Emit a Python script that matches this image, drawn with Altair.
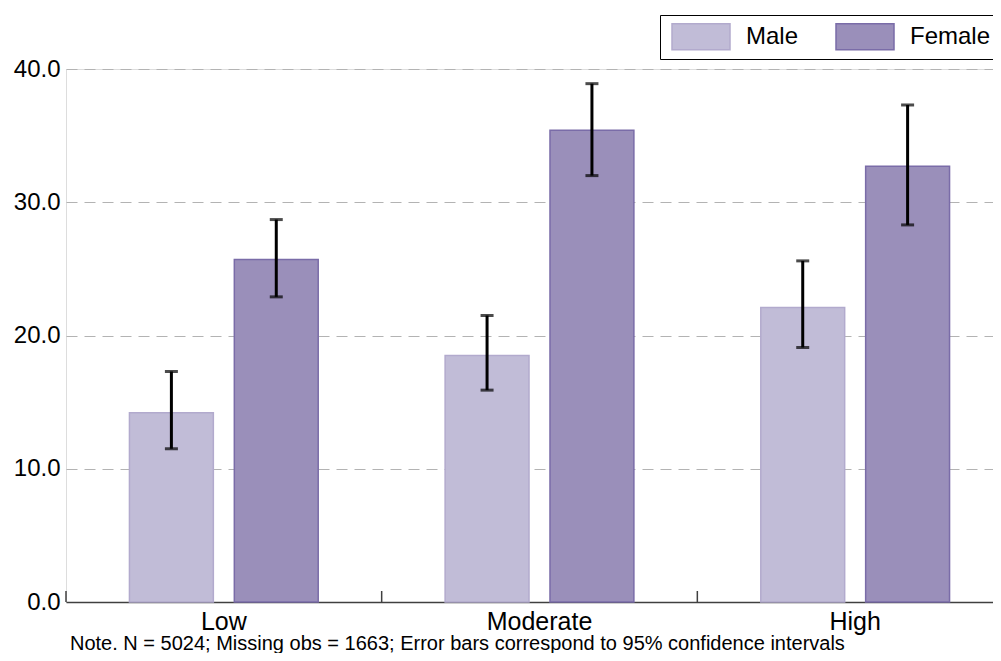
import altair as alt
import pandas as pd

categories = ["Low", "Moderate", "High"]
sexes = ["Male", "Female"]
male_mean = [14.2, 18.5, 22.1]
male_lo = [11.5, 15.9, 19.1]
male_hi = [17.3, 21.5, 25.6]
female_mean = [25.7, 35.4, 32.7]
female_lo = [22.9, 32.0, 28.3]
female_hi = [28.7, 38.9, 37.3]
y_ticks = [0, 10, 20, 30, 40]
note = "Note. N = 5024; Missing obs = 1663; Error bars correspond to 95% confidence intervals"

rows = []
for i, c in enumerate(categories):
    rows.append({"cat": c, "sex": "Male", "mean": male_mean[i], "lo": male_lo[i], "hi": male_hi[i]})
    rows.append({"cat": c, "sex": "Female", "mean": female_mean[i], "lo": female_lo[i], "hi": female_hi[i]})
df = pd.DataFrame(rows)
cat_df = pd.DataFrame({"cat": categories})

FONT = "Liberation Sans"
W, H = 927, 533

xscale = alt.Scale(domain=categories, paddingInner=0, paddingOuter=0, range=[0, 947])
xoff = alt.XOffset("sex:N", sort=sexes, scale=alt.Scale(domain=sexes, paddingInner=0.2, paddingOuter=0.605))
yscale = alt.Scale(domain=[0, 40], nice=False)

legend = alt.Legend(title=None, orient="none", legendX=594, legendY=-54,
                    direction="horizontal", columns=2,
                    symbolType="M-2,-0.9H2V0.9H-2Z", symbolSize=841,
                    symbolOffset=19.5, symbolStrokeWidth=1.5,
                    labelFontSize=24, labelFont=FONT,
                    labelColor="black", labelOffset=29.5, columnPadding=31,
                    padding=6, strokeColor="black", fillColor="white")

base = alt.Chart(df)

bars = base.mark_bar(strokeWidth=1.5).encode(
    x=alt.X("cat:N", sort=categories, scale=xscale, title=None,
            axis=alt.Axis(ticks=False, labelFontSize=25, labelColor="black", labelPadding=7,
                          domainColor="#404040", domainWidth=1.5, labelAngle=0, labelFont=FONT)),
    xOffset=xoff,
    y=alt.Y("mean:Q", scale=yscale, title=None,
            axis=alt.Axis(values=y_ticks, format=".1f", domain=False, ticks=False,
                          grid=True, gridDash=[11, 7], gridColor="#b3b3b3", gridWidth=1,
                          labelFontSize=24, labelColor="black", labelPadding=6, labelFont=FONT)),
    fill=alt.Fill("sex:N", sort=sexes, scale=alt.Scale(domain=sexes, range=["#c1bcd7", "#9a8fba"]),
                  legend=legend),
    stroke=alt.Stroke("sex:N", sort=sexes, scale=alt.Scale(domain=sexes, range=["#b2aacd", "#7a6ca8"]),
                      legend=legend),
)

err = base.mark_rule(color="black", strokeWidth=3).encode(
    x=alt.X("cat:N", sort=categories, scale=xscale),
    xOffset=xoff,
    y=alt.Y("lo:Q", scale=yscale),
    y2="hi:Q",
)
cap_lo = base.mark_tick(color="black", thickness=3, size=13).encode(
    x=alt.X("cat:N", sort=categories, scale=xscale),
    xOffset=xoff,
    y=alt.Y("lo:Q", scale=yscale),
)
cap_hi = base.mark_tick(color="black", thickness=3, size=13).encode(
    x=alt.X("cat:N", sort=categories, scale=xscale),
    xOffset=xoff,
    y=alt.Y("hi:Q", scale=yscale),
)

ticks = alt.Chart(cat_df).mark_rule(color="#404040", strokeWidth=1.5).encode(
    x=alt.X("cat:N", sort=categories, scale=xscale, bandPosition=0),
    y=alt.value(H),
    y2=alt.value(H - 11),
)

chart = alt.layer(bars, err, cap_lo, cap_hi, ticks).properties(
    width=W, height=H,
    autosize=alt.AutoSizeParams(type="none"),
    padding={"left": 58, "top": 61, "right": 0, "bottom": 51},
    title=alt.TitleParams(text=note, orient="bottom", anchor="start", frame="group", fontSize=20,
                          fontWeight="normal", font=FONT, color="black", dx=4, offset=0),
).configure_view(stroke=None).configure(font=FONT)

chart.save("out.html", embed_options={"renderer": "svg", "actions": False})
